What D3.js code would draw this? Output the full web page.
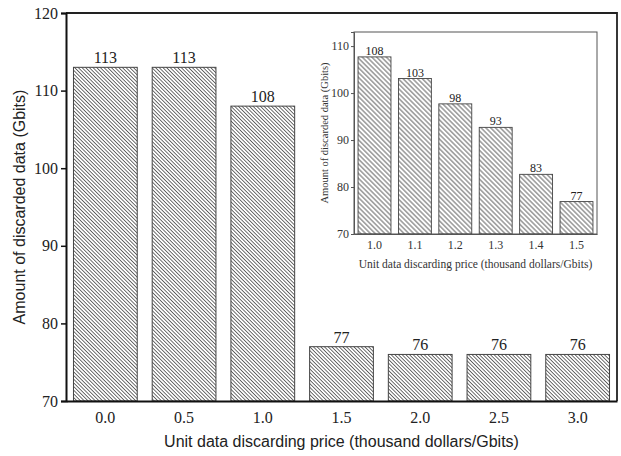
<!DOCTYPE html>
<html>
<head>
<meta charset="utf-8">
<script src="https://cdn.jsdelivr.net/npm/d3@7"></script>
<style>
  body { margin: 0; background: #fff; }
  svg { display: block; }
</style>
</head>
<body>
<div id="chart"></div>
<script>
// main chart data
var prices = ["0.0", "0.5", "1.0", "1.5", "2.0", "2.5", "3.0"]
var amounts = [113, 113, 108, 77, 76, 76, 76]
var yTicks = [70, 80, 90, 100, 110, 120]

// inset data
var insetPrices = ["1.0", "1.1", "1.2", "1.3", "1.4", "1.5"]
var insetAmounts = [107.7, 103.1, 97.7, 92.7, 82.7, 76.9]
var insetLabels = ["108", "103", "98", "93", "83", "77"]
var insetTicks = [70, 80, 90, 100, 110]

var W = 621, H = 456
var M = {TOP: 13, RIGHT: 4, BOTTOM: 55, LEFT: 66}
var PW = W - M.LEFT - M.RIGHT, PH = H - M.TOP - M.BOTTOM

var SERIF = "'Liberation Serif', 'Times New Roman', serif"
var SANS = "'Liberation Sans', Arial, sans-serif"

var svg = d3.select("#chart").append("svg")
  .attr("width", W)
  .attr("height", H)

// hatch patterns (\\\\ direction)
var defs = svg.append("defs")
function hatch(id, d, col){
  var p = defs.append("pattern")
    .attr("id", id)
    .attr("patternUnits", "userSpaceOnUse")
    .attr("width", d).attr("height", d)
    .attr("patternTransform", "rotate(-45)")
  p.append("rect").attr("width", d).attr("height", d).attr("fill", "#fff")
  p.append("line")
    .attr("x1", d / 2).attr("y1", 0).attr("x2", d / 2).attr("y2", d)
    .attr("stroke", col).attr("stroke-width", 0.8)
}
hatch("hatchMain", 2.6, "#4a4a4a")
hatch("hatchInset", 3.4, "#3a3a3a")

var g = svg.append("g")
  .attr("transform", "translate(" + M.LEFT + "," + M.TOP + ")")

var x = d3.scaleBand()
  .domain(prices)
  .range([0, PW])
  .paddingInner(0.19)
  .paddingOuter(0.095)

var y = d3.scaleLinear()
  .domain([70, 120])
  .range([PH, 0])

// bars
g.selectAll(".bar")
  .data(amounts)
  .enter()
  .append("rect")
  .attr("class", "bar")
  .attr("x", function(d, i){ return x(prices[i]) })
  .attr("y", function(d){ return y(d) })
  .attr("width", x.bandwidth())
  .attr("height", function(d){ return PH - y(d) })
  .attr("fill", "url(#hatchMain)")
  .attr("stroke", "#444")
  .attr("stroke-width", 1)

g.selectAll(".barlabel")
  .data(amounts)
  .enter()
  .append("text")
  .attr("class", "barlabel")
  .attr("x", function(d, i){ return x(prices[i]) + x.bandwidth() / 2 })
  .attr("y", function(d){ return y(d) - 4 })
  .attr("text-anchor", "middle")
  .style("font-family", SERIF)
  .style("font-size", "16px")
  .attr("fill", "#222")
  .text(function(d){ return d })

// frame (top and right)
g.append("path")
  .attr("d", "M0,0H" + PW + "V" + PH)
  .attr("fill", "none")
  .attr("stroke", "#222")
  .attr("stroke-width", 1.8)

// axes
var yAxis = g.append("g")
  .call(d3.axisLeft(y).tickValues(yTicks).tickSize(5).tickPadding(3))
var xAxis = g.append("g")
  .attr("transform", "translate(0," + PH + ")")
  .call(d3.axisBottom(x).tickSize(0).tickPadding(11))

;[xAxis, yAxis].forEach(function(a){
  a.select(".domain").attr("stroke", "#111").attr("stroke-width", 2)
  a.selectAll(".tick line").attr("stroke", "#111").attr("stroke-width", 1.5)
  a.selectAll(".tick text")
    .style("font-family", SERIF)
    .style("font-size", "16px")
    .attr("fill", "#222")
})

svg.append("text")
  .attr("x", M.LEFT + PW / 2)
  .attr("y", 447)
  .attr("text-anchor", "middle")
  .style("font-family", SANS)
  .style("font-size", "16px")
  .attr("fill", "#222")
  .text("Unit data discarding price (thousand dollars/Gbits)")

svg.append("text")
  .attr("transform", "translate(25," + (M.TOP + PH / 2) + ") rotate(-90)")
  .attr("text-anchor", "middle")
  .style("font-family", SANS)
  .style("font-size", "16px")
  .attr("fill", "#222")
  .text("Amount of discarded data (Gbits)")

// ---- inset ----
var IN = {X: 354, Y: 32, W: 243, H: 202}
var ig = svg.append("g")
  .attr("transform", "translate(" + IN.X + "," + IN.Y + ")")

var ix = d3.scaleBand()
  .domain(insetPrices)
  .range([0, IN.W])
  .paddingInner(0.185)
  .paddingOuter(0.1)

var iy = d3.scaleLinear()
  .domain([70, 113])
  .range([IN.H, 0])

ig.selectAll(".ibar")
  .data(insetAmounts)
  .enter()
  .append("rect")
  .attr("class", "ibar")
  .attr("x", function(d, i){ return ix(insetPrices[i]) })
  .attr("y", function(d){ return iy(d) })
  .attr("width", ix.bandwidth())
  .attr("height", function(d){ return IN.H - iy(d) })
  .attr("fill", "url(#hatchInset)")
  .attr("stroke", "#444")
  .attr("stroke-width", 0.9)

ig.selectAll(".ilabel")
  .data(insetAmounts)
  .enter()
  .append("text")
  .attr("class", "ilabel")
  .attr("x", function(d, i){ return ix(insetPrices[i]) + ix.bandwidth() / 2 })
  .attr("y", function(d){ return iy(d) - 2 })
  .attr("text-anchor", "middle")
  .style("font-family", SERIF)
  .style("font-size", "12px")
  .attr("fill", "#222")
  .text(function(d, i){ return insetLabels[i] })

ig.append("rect")
  .attr("width", IN.W)
  .attr("height", IN.H)
  .attr("fill", "none")
  .attr("stroke", "#555")
  .attr("stroke-width", 1)

var iyAxis = ig.append("g")
  .call(d3.axisLeft(iy).tickValues(insetTicks).tickSize(3).tickPadding(2))
var ixAxis = ig.append("g")
  .attr("transform", "translate(0," + IN.H + ")")
  .call(d3.axisBottom(ix).tickSize(0).tickPadding(6))

;[ixAxis, iyAxis].forEach(function(a){
  a.select(".domain").attr("stroke", "#555").attr("stroke-width", 1)
  a.selectAll(".tick line").attr("stroke", "#555")
  a.selectAll(".tick text")
    .style("font-family", SERIF)
    .style("font-size", "12px")
    .attr("fill", "#333")
})

svg.append("text")
  .attr("x", IN.X + IN.W / 2)
  .attr("y", 268)
  .attr("text-anchor", "middle")
  .style("font-family", SERIF)
  .style("font-size", "11.5px")
  .attr("fill", "#333")
  .text("Unit data discarding price (thousand dollars/Gbits)")

svg.append("text")
  .attr("transform", "translate(328," + (IN.Y + IN.H / 2) + ") rotate(-90)")
  .attr("text-anchor", "middle")
  .style("font-family", SERIF)
  .style("font-size", "10.5px")
  .attr("fill", "#333")
  .text("Amount of discarded data (Gbits)")
</script>
</body>
</html>
